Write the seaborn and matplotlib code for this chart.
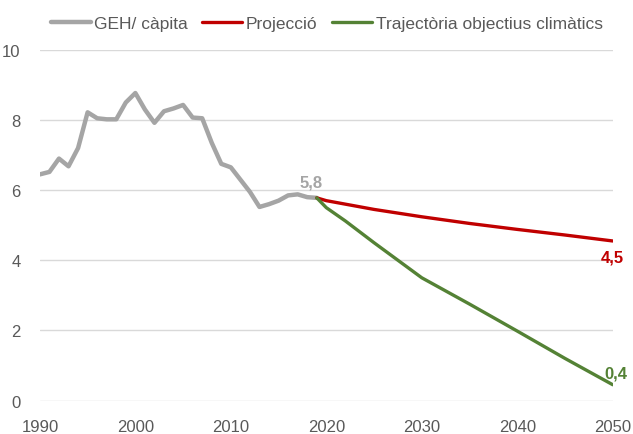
import pandas as pd
import matplotlib.pyplot as plt
import seaborn as sns

anys_hist = list(range(1990, 2020))
geh_capita = [6.45, 6.52, 6.90, 6.68, 7.20, 8.22, 8.05, 8.02, 8.02, 8.50,
              8.77, 8.30, 7.92, 8.25, 8.33, 8.43, 8.07, 8.05, 7.35, 6.75,
              6.65, 6.30, 5.95, 5.52, 5.60, 5.70, 5.85, 5.88, 5.80, 5.78]

anys_proj = [2019, 2020, 2025, 2030, 2035, 2040, 2045, 2050]
projeccio = [5.78, 5.70, 5.45, 5.24, 5.05, 4.88, 4.72, 4.55]

anys_obj = [2019, 2020, 2022, 2025, 2030, 2035, 2040, 2045, 2050]
objectius = [5.78, 5.50, 5.12, 4.50, 3.50, 2.75, 1.98, 1.20, 0.45]

etiquetes = ["GEH/ càpita", "Projecció", "Trajectòria objectius climàtics"]
colors = ["#A5A5A5", "#C00000", "#548235"]

sns.set_style("white")
plt.rcParams['font.family'] = ['Liberation Sans', 'DejaVu Sans']

fig = plt.figure(figsize=(6.33, 4.35), dpi=100)
ax = fig.add_axes([0.063, 0.077, 0.905, 0.806])

df_hist = pd.DataFrame({"any": anys_hist, "valor": geh_capita})
df_proj = pd.DataFrame({"any": anys_proj, "valor": projeccio})
df_obj = pd.DataFrame({"any": anys_obj, "valor": objectius})

sns.lineplot(data=df_hist, x="any", y="valor", color=colors[0], linewidth=3.2,
             label=etiquetes[0], ax=ax, solid_capstyle="round", solid_joinstyle="round")
sns.lineplot(data=df_proj, x="any", y="valor", color=colors[1], linewidth=2.4,
             label=etiquetes[1], ax=ax, solid_capstyle="round")
sns.lineplot(data=df_obj, x="any", y="valor", color=colors[2], linewidth=2.4,
             label=etiquetes[2], ax=ax, solid_capstyle="round")

ax.set_xlim(1990, 2050)
ax.set_ylim(0, 10)
ax.set_xticks(range(1990, 2051, 10))
ax.set_yticks(range(0, 11, 2))
ax.set_xlabel("")
ax.set_ylabel("")
ax.grid(axis="y", color="#D9D9D9", linewidth=1)
ax.set_axisbelow(True)
for s in ax.spines.values():
    s.set_visible(False)
ax.tick_params(axis="both", length=0, labelsize=12, colors="#595959")
ax.tick_params(axis="x", pad=13)
ax.tick_params(axis="y", pad=14)

# etiquetes de valor
ax.text(anys_hist[-1] - 0.6, geh_capita[-1] + 0.25, "5,8", color=colors[0],
        fontsize=12, fontweight="bold", ha="center", va="bottom")
ax.text(2051.2, projeccio[-1] - 0.25, "4,5", color=colors[1],
        fontsize=12, fontweight="bold", ha="right", va="top")
ax.text(2051.5, objectius[-1] + 0.12, "0,4", color=colors[2],
        fontsize=12, fontweight="bold", ha="right", va="bottom")

leg = ax.legend(loc="upper center", bbox_to_anchor=(0.516, 0.998), bbox_transform=fig.transFigure,
                ncol=3, frameon=False, fontsize=12.5, handlelength=2.3, handletextpad=0.2,
                columnspacing=0.85)
for t in leg.get_texts():
    t.set_color("#595959")

plt.savefig("out.png", dpi=100)
plt.close()
